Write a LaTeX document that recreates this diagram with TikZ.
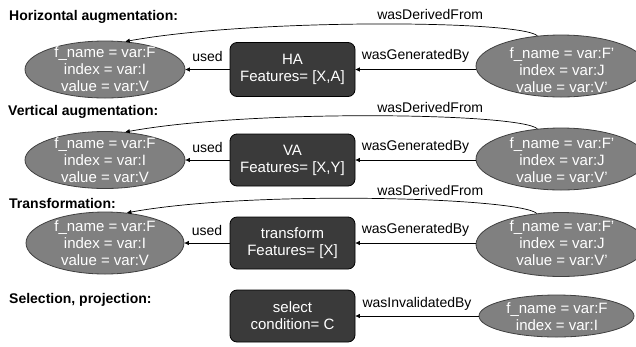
\documentclass[tikz,border=0pt]{standalone}
\usepackage{fontspec}
\setmainfont{Liberation Sans}
\usetikzlibrary{shapes.geometric,arrows.meta}
\definecolor{ellfill}{HTML}{808080}
\definecolor{elldraw}{HTML}{404040}
\definecolor{boxfill}{HTML}{3A3A3A}
\begin{document}
\begin{tikzpicture}[x=1pt,y=-1pt,
 ell/.style={ellipse, draw=elldraw, fill=ellfill, line width=0.8pt, inner sep=0pt},
 etext/.style={text=white, align=center, font=\fontsize{15}{17}\selectfont, inner sep=0pt},
 act/.style={rectangle, rounded corners=7pt, draw=black, fill=boxfill, line width=0.8pt, text=white, align=center, font=\fontsize{15}{17}\selectfont, minimum width=125pt, minimum height=54pt, inner sep=0pt},
 rel/.style={draw=black, line width=0.7pt, -{Triangle[length=4.5pt,width=4pt]}},
 lbl/.style={font=\fontsize{14}{16}\selectfont, inner sep=1pt},
 ttl/.style={font=\fontsize{14}{16}\selectfont\bfseries, anchor=west, inner sep=0pt}]
\useasboundingbox (0,0) rectangle (636,346);

% titles
\node[ttl] (t1) at (9,17) {Horizontal augmentation:};
\node[ttl] (t2) at (8,112) {Vertical augmentation:};
\node[ttl] (t3) at (9,203) {Transformation:};
\node[ttl] (t4) at (9,300) {Selection, projection:};

% row 1
\node[ell, minimum width=160pt, minimum height=57pt] (L1) at (105,69.5) {};
\node[etext] (L1t) at (L1) {f\_name = var:F\\index = var:I\\value = var:V};
\node[act] (B1) at (292.5,69.5) {HA\\Features= [X,A]};
\node[ell, minimum width=170pt, minimum height=62pt] (R1) at (561,66) {};
\node[etext] (R1t) at (562,70) {f\_name = var:F'\\index = var:J\\value = var:V'};
\draw[rel] (B1) -- (L1) node[lbl, midway, above=6.5pt] {used};
\draw[rel] (R1.west |- B1) -- (B1.east) node[lbl, midway, above=5.5pt] {wasGeneratedBy};
\draw[rel] (R1.128) .. controls +(-17,-16) and +(125,-23) .. (L1.54) node[lbl, pos=0.38, above=3pt] {wasDerivedFrom};

% row 2
\node[ell, minimum width=160pt, minimum height=57pt] (L2) at (105,160) {};
\node[etext] (L2t) at (L2) {f\_name = var:F\\index = var:I\\value = var:V};
\node[act, minimum height=52pt] (B2) at (292.5,160) {VA\\Features= [X,Y]};
\node[ell, minimum width=170pt, minimum height=62pt] (R2) at (561,159) {};
\node[etext] (R2t) at (562,160.5) {f\_name = var:F'\\index = var:J\\value = var:V'};
\draw[rel] (B2) -- (L2) node[lbl, midway, above=6.5pt] {used};
\draw[rel] (R2.west |- B2) -- (B2.east) node[lbl, midway, above=5.5pt] {wasGeneratedBy};
\draw[rel] (R2.128) .. controls +(-17,-16) and +(125,-23) .. (L2.54) node[lbl, pos=0.38, above=3pt] {wasDerivedFrom};

% row 3
\node[ell, minimum width=158pt, minimum height=62pt] (L3) at (105,243) {};
\node[etext] (L3t) at (L3) {f\_name = var:F\\index = var:I\\value = var:V};
\node[act, minimum height=52pt] (B3) at (292.5,243) {transform\\Features= [X]};
\node[ell, minimum width=170pt, minimum height=64pt] (R3) at (561,244.5) {};
\node[etext] (R3t) at (562,243.5) {f\_name = var:F'\\index = var:J\\value = var:V'};
\draw[rel] (B3) -- (L3) node[lbl, midway, above=6.5pt] {used};
\draw[rel] (R3.west |- B3) -- (B3.east) node[lbl, midway, above=5.5pt] {wasGeneratedBy};
\draw[rel] (R3.128) .. controls +(-17,-16) and +(125,-23) .. (L3.54) node[lbl, pos=0.38, above=3pt] {wasDerivedFrom};

% row 4
\node[act, minimum height=52pt] (B4) at (292.5,316) {select\\condition= C};
\node[ell, minimum width=155pt, minimum height=42pt] (R4) at (556.5,316) {};
\node[etext] (R4t) at (557,316.5) {f\_name = var:F\\index = var:I};
\draw[rel] (R4.west |- B4) -- (B4.east) node[lbl, midway, above=4pt] {wasInvalidatedBy};
\end{tikzpicture}
\end{document}
